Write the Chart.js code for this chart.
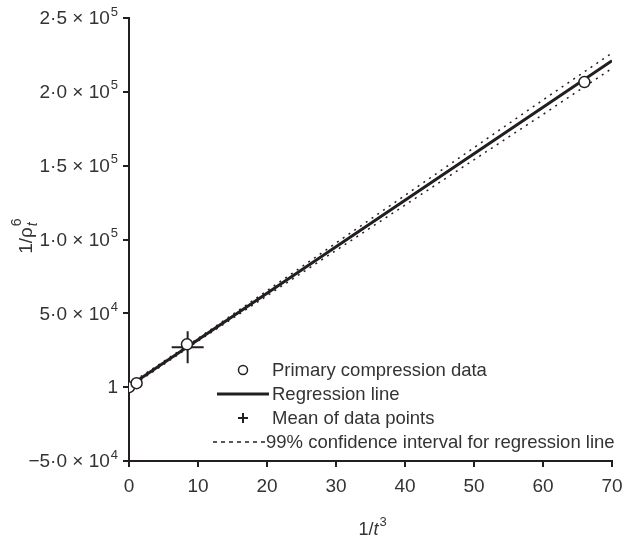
<!DOCTYPE html>
<html>
<head>
<meta charset="utf-8">
<script src="https://cdn.jsdelivr.net/npm/chart.js@4/dist/chart.umd.min.js"></script>
<style>
  html, body { margin: 0; padding: 0; background: #fff; }
  #wrap { width: 637px; height: 539px; }
</style>
</head>
<body>
<div id="wrap"><canvas id="chart" width="637" height="539"></canvas></div>
<script>
// primary compression data
const dataX = [0, 1.1, 8.4, 66];
const dataY = [0, 2700, 29000, 206600];

// mean of the data points
const meanX = [8.5];
const meanY = [27000];

// regression line and its 99% confidence band
const lineX = [0, 10, 20, 30, 40, 50, 60, 70];
const lineY = [600, 32100, 63600, 95100, 126600, 158100, 189600, 221100];
const ciUpper = [1800, 33000, 65300, 97600, 129900, 162200, 194500, 226300];
const ciLower = [-600, 31200, 61900, 92600, 123300, 154000, 184700, 215900];

const xTicks = [0, 10, 20, 30, 40, 50, 60, 70];
const yTicks = [-50000, 0, 50000, 100000, 150000, 200000, 250000];
const yTickMain = ['\u22125\u00b70 \u00d7 10', '1', '5\u00b70 \u00d7 10', '1\u00b70 \u00d7 10',
  '1\u00b75 \u00d7 10', '2\u00b70 \u00d7 10', '2\u00b75 \u00d7 10'];
const yTickExp = ['4', '', '4', '5', '5', '5', '5'];

const legendLabels = ['Primary compression data', 'Regression line', 'Mean of data points',
  '99% confidence interval for regression line'];

const ink = '#231f20';
const txt = '#333';
const font = 'Liberation Sans, Arial, sans-serif';

const pts = (xs, ys) => xs.map((x, i) => ({ x: x, y: ys[i] }));

// y tick labels with real superscripts
const yLabels = {
  id: 'yLabels',
  afterDraw(chart) {
    const ctx = chart.ctx;
    const ys = chart.scales.y;
    const right = 118;
    ctx.save();
    ctx.fillStyle = txt;
    ctx.textBaseline = 'middle';
    ctx.textAlign = 'right';
    yTicks.forEach((v, i) => {
      const py = ys.getPixelForValue(v) + 1;
      let x = right;
      if (yTickExp[i]) {
        ctx.font = '13px ' + font;
        ctx.fillText(yTickExp[i], x, py - 7);
        x -= ctx.measureText(yTickExp[i]).width + 1;
      }
      ctx.font = '19px ' + font;
      ctx.fillText(yTickMain[i], x, py);
    });
    ctx.restore();
  }
};

// axis titles with italics / sub- and superscripts
const titles = {
  id: 'titles',
  afterDraw(chart) {
    const ctx = chart.ctx;
    ctx.save();
    ctx.fillStyle = txt;
    ctx.textBaseline = 'alphabetic';

    // x title: 1/t^3
    const cx = 372;
    ctx.font = '18px ' + font;
    const w1 = ctx.measureText('1/').width;
    ctx.font = 'italic 18px ' + font;
    const w2 = ctx.measureText('t').width;
    ctx.font = '13px ' + font;
    const w3 = ctx.measureText('3').width;
    let x = cx - (w1 + w2 + w3) / 2;
    const y = 535;
    ctx.font = '18px ' + font;
    ctx.fillText('1/', x, y);
    ctx.font = 'italic 18px ' + font;
    ctx.fillText('t', x + w1, y);
    ctx.font = '13px ' + font;
    ctx.fillText('3', x + w1 + w2 + 1, y - 9);

    // y title: 1/rho_t^6
    ctx.translate(32, 236);
    ctx.rotate(-Math.PI / 2);
    ctx.font = '19px ' + font;
    const r1 = ctx.measureText('1/\u03c1').width;
    x = -(r1 + 9) / 2;
    ctx.fillText('1/\u03c1', x, 0);
    ctx.font = 'italic 14px ' + font;
    ctx.fillText('t', x + r1 + 1, 5);
    ctx.font = '14px ' + font;
    ctx.fillText('6', x + r1 + 1, -11);
    ctx.restore();
  }
};

// legend inside the plot, lower right
const legendBox = {
  id: 'legendBox',
  afterDraw(chart) {
    const ctx = chart.ctx;
    const rows = [370, 394, 418, 442];
    const textX = [272, 272, 272, 266];
    ctx.save();
    ctx.font = '18.5px ' + font;
    ctx.fillStyle = txt;
    ctx.textBaseline = 'middle';
    legendLabels.forEach((l, i) => ctx.fillText(l, textX[i], rows[i] + 1));

    ctx.strokeStyle = ink;
    // circle
    ctx.lineWidth = 1.5;
    ctx.beginPath();
    ctx.arc(243, rows[0], 4.5, 0, Math.PI * 2);
    ctx.fillStyle = '#fff';
    ctx.fill();
    ctx.stroke();
    // solid line
    ctx.lineWidth = 3;
    ctx.beginPath();
    ctx.moveTo(217, rows[1]);
    ctx.lineTo(269, rows[1]);
    ctx.stroke();
    // cross
    ctx.lineWidth = 2;
    ctx.beginPath();
    ctx.moveTo(238, rows[2]); ctx.lineTo(248, rows[2]);
    ctx.moveTo(243, rows[2] - 5); ctx.lineTo(243, rows[2] + 5);
    ctx.stroke();
    // dotted line
    ctx.lineWidth = 1.5;
    ctx.setLineDash([4, 4]);
    ctx.beginPath();
    ctx.moveTo(213, rows[3]);
    ctx.lineTo(265, rows[3]);
    ctx.stroke();
    ctx.restore();
  }
};

new Chart(document.getElementById('chart'), {
  type: 'scatter',
  data: {
    datasets: [
      {
        label: legendLabels[0],
        data: pts(dataX, dataY),
        showLine: false,
        pointStyle: 'circle',
        pointRadius: 5.5,
        pointBorderWidth: 1.5,
        pointBackgroundColor: '#fff',
        pointBorderColor: ink,
        order: 0
      },
      {
        label: legendLabels[2],
        data: pts(meanX, meanY),
        showLine: false,
        pointStyle: 'cross',
        pointRadius: 16,
        pointBorderWidth: 2,
        pointBorderColor: ink,
        order: 1
      },
      {
        label: legendLabels[1],
        data: pts(lineX, lineY),
        showLine: true,
        borderColor: ink,
        borderWidth: 3,
        pointRadius: 0,
        order: 2
      },
      {
        label: legendLabels[3],
        data: pts(lineX, ciUpper),
        showLine: true,
        borderColor: ink,
        borderWidth: 1.5,
        borderDash: [2, 5],
        pointRadius: 0,
        order: 3
      },
      {
        label: legendLabels[3] + ' (lower)',
        data: pts(lineX, ciLower),
        showLine: true,
        borderColor: ink,
        borderWidth: 1.5,
        borderDash: [2, 5],
        pointRadius: 0,
        order: 3
      }
    ]
  },
  options: {
    responsive: false,
    animation: false,
    layout: { padding: { top: 16, right: 25, left: 0, bottom: 0 } },
    plugins: {
      legend: { display: false },
      tooltip: { enabled: false }
    },
    scales: {
      x: {
        type: 'linear',
        min: 0,
        max: 70,
        afterBuildTicks: s => { s.ticks = xTicks.map(v => ({ value: v })); },
        ticks: { color: txt, font: { family: font, size: 19 }, padding: 8 },
        grid: { drawOnChartArea: false, drawTicks: true, tickLength: 6, color: ink, lineWidth: 2 },
        border: { color: ink, width: 2 },
        afterFit: s => { s.height = 78; }
      },
      y: {
        type: 'linear',
        min: -50000,
        max: 250000,
        afterBuildTicks: s => { s.ticks = yTicks.map(v => ({ value: v })); },
        ticks: { callback: () => '' },
        grid: { drawOnChartArea: false, drawTicks: true, tickLength: 6, color: ink, lineWidth: 2 },
        border: { color: ink, width: 2 },
        afterFit: s => { s.width = 129; }
      }
    }
  },
  plugins: [yLabels, titles, legendBox]
});
</script>
</body>
</html>
